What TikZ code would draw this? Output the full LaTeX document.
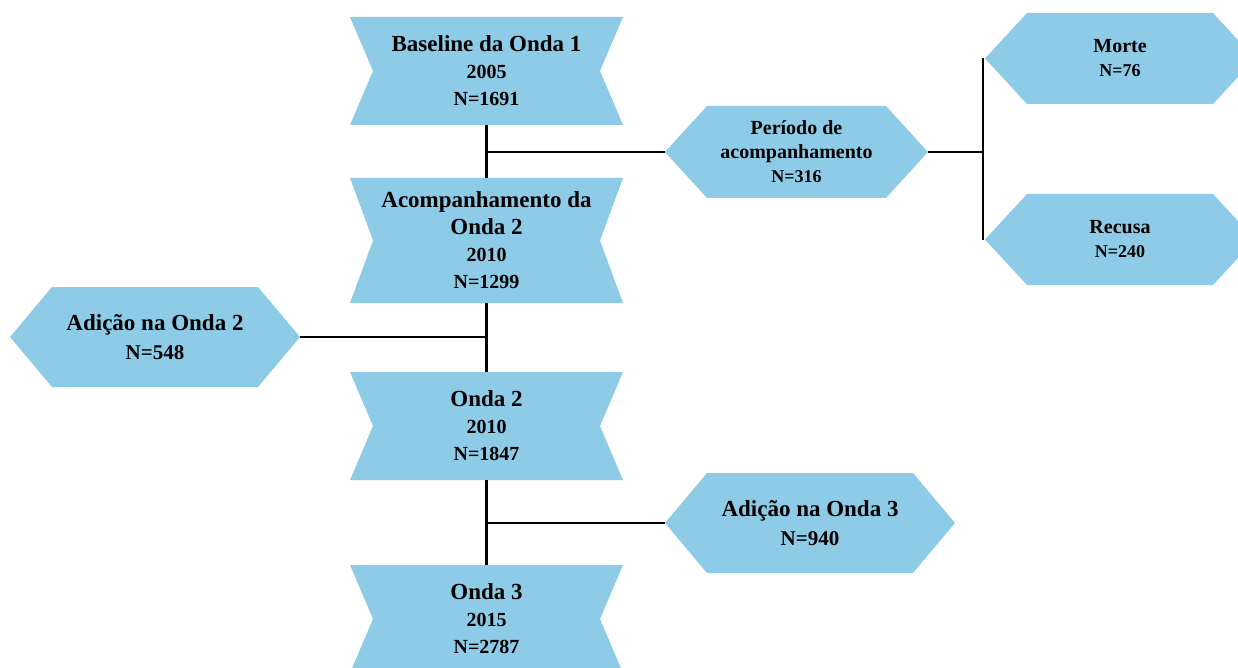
\documentclass[tikz,border=0pt]{standalone}
\usepackage{fontspec}
\setmainfont{Liberation Serif}
\definecolor{boxblue}{RGB}{142,203,230}
\tikzset{
  wave/.style={minimum width=273pt, minimum height=#1, inner sep=0pt, align=center,
    font=\bfseries\fontsize{20}{27}\selectfont,
    path picture={\fill[boxblue] (path picture bounding box.north west) -- (path picture bounding box.north east)
      -- ([xshift=-23pt]path picture bounding box.east) -- (path picture bounding box.south east)
      -- (path picture bounding box.south west) -- ([xshift=23pt]path picture bounding box.west) -- cycle;}},
  hexa/.style 2 args={minimum width=#1, minimum height=#2, inner sep=0pt, align=center,
    font=\bfseries\fontsize{18}{24}\selectfont,
    path picture={\fill[boxblue] ([xshift=42pt]path picture bounding box.north west) -- ([xshift=-42pt]path picture bounding box.north east)
      -- (path picture bounding box.east) -- ([xshift=-42pt]path picture bounding box.south east)
      -- ([xshift=42pt]path picture bounding box.south west) -- (path picture bounding box.west) -- cycle;}},
  link/.style={line width=2.2pt}
}
\newcommand{\bigline}[1]{{\fontsize{23}{27}\selectfont #1}}
\begin{document}
\begin{tikzpicture}[x=1pt,y=1pt]
  \clip (0,0) rectangle (1238,-668);
  % main column
  \node[wave=108pt] (b1) at (486.5,-71) {\bigline{Baseline da Onda 1}\\2005\\N=1691};
  \node[wave=125pt] (b2) at (486.5,-240.5) {\bigline{Acompanhamento da}\\\bigline{Onda 2}\\2010\\N=1299};
  \node[wave=108pt] (b3) at (486.5,-426) {\bigline{Onda 2}\\2010\\N=1847};
  \node[wave=108pt] (b4) at (486.5,-619) {\bigline{Onda 3}\\2015\\N=2787};
  % side boxes
  \node[hexa={263pt}{92pt}] (per) at (796.5,-152) {\fontsize{20}{26}\selectfont Período de\\\fontsize{20}{24}\selectfont acompanhamento\\\fontsize{18}{24}\selectfont N=316};
  \node[hexa={270pt}{91pt}] (mor) at (1120,-58.5) {\fontsize{20}{24}\selectfont Morte\\\fontsize{18}{24}\selectfont N=76};
  \node[hexa={270pt}{91pt}] (rec) at (1120,-239.5) {\fontsize{20}{24}\selectfont Recusa\\\fontsize{18}{24}\selectfont N=240};
  \node[hexa={290pt}{100pt}, font=\bfseries\fontsize{21}{29}\selectfont] (ad2) at (155,-337) {\bigline{Adição na Onda 2}\\N=548};
  \node[hexa={290pt}{100pt}, font=\bfseries\fontsize{21}{29}\selectfont] (ad3) at (810,-523) {\bigline{Adição na Onda 3}\\N=940};
  % connectors
  \draw[link] (b1.south) -- (b2.north);
  \draw[link] (b2.south) -- (b3.north);
  \draw[link] (b3.south) -- (b4.north);
  \draw[link] (b1.south |- per.west) -- (per.west);
  \draw[link] (ad2.east) -- (ad2.east -| b2.south);
  \draw[link] (b3.south |- ad3.west) -- (ad3.west);
  \coordinate (j1) at ([xshift=-2pt]per.east -| mor.west);
  \draw[link] (per.east) -- (j1);
  \draw[link] ([xshift=-2pt]mor.west) -- ([xshift=-2pt]rec.west);
\end{tikzpicture}
\end{document}
